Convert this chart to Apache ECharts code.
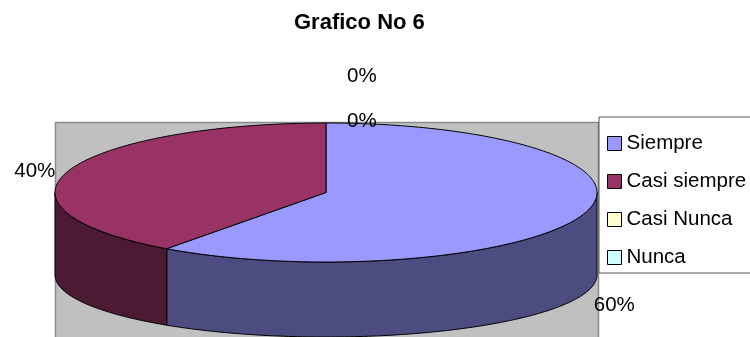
<!DOCTYPE html>
<html>
<head>
<meta charset="utf-8">
<title>Grafico No 6</title>
<script src="https://cdn.jsdelivr.net/npm/echarts@6/dist/echarts.min.js"></script>
<style>
  html, body { margin: 0; padding: 0; background: #fff; }
  #chart { width: 750px; height: 337px; }
</style>
</head>
<body>
<div id="chart"></div>
<script>
// Survey answers and their share of responses
const categories = ['Siempre', 'Casi siempre', 'Casi Nunca', 'Nunca'];
const values = [60, 40, 0, 0];
const topColors = ['#9999FF', '#993366', '#FFFFCC', '#CCFFFF'];
const sideColors = ['#4C4C80', '#4D1A33', '#80806A', '#6A8080'];

const FONT = '"Liberation Sans", Arial, sans-serif';

// Tilted-disc geometry (top face ellipse and bottom rim ellipse)
const geo = { cx: 326, cyTop: 192.5, a: 271, bTop: 69.5, cyBot: 275, bBot: 62 };

const total = values.reduce((s, v) => s + v, 0);

function topPt(deg) {
  const r = deg * Math.PI / 180;
  return [geo.cx + geo.a * Math.sin(r), geo.cyTop - geo.bTop * Math.cos(r)];
}
function botPt(deg) {
  const r = deg * Math.PI / 180;
  return [geo.cx + geo.a * Math.sin(r), geo.cyBot - geo.bBot * Math.cos(r)];
}
function arc(fn, from, to) {
  const pts = [];
  const n = Math.max(2, Math.ceil(Math.abs(to - from)));
  for (let k = 0; k <= n; k++) pts.push(fn(from + (to - from) * k / n));
  return pts;
}

function renderSlice(params, api) {
  const i = params.seriesIndex;
  let before = 0;
  for (let k = 0; k < i; k++) before += values[k];
  const start = before / total * 360;
  const end = (before + values[i]) / total * 360;
  const children = [];

  if (values[i] > 0) {
    // visible front wall of the slice (angles 90..270, clockwise from top)
    const s0 = Math.max(start, 90), s1 = Math.min(end, 270);
    if (s0 < s1) {
      const pts = arc(topPt, s0, s1).concat(arc(botPt, s1, s0));
      children.push({
        type: 'polygon', shape: { points: pts },
        style: { fill: sideColors[i], stroke: '#000', lineWidth: 1 }
      });
    }
    // top face
    const facePts = [[geo.cx, geo.cyTop]].concat(arc(topPt, start, end));
    children.push({
      type: 'polygon', shape: { points: facePts },
      style: { fill: topColors[i], stroke: '#000', lineWidth: 1 }
    });
  }

  // percentage label
  const pct = Math.round(values[i] / total * 100) + '%';
  let x, y, align;
  if (values[i] > 0) {
    const mid = (start + end) / 2;
    const r = mid * Math.PI / 180;
    const s = Math.sin(r), c = Math.cos(r);
    const p = c < 0 ? botPt(mid) : topPt(mid);
    align = s >= 0 ? 'left' : 'right';
    x = p[0] + (s >= 0 ? 10 : -13);
    y = p[1] + (c < 0 ? 11 : 0);
  } else {
    // empty slices sit at the top seam; stack their labels upward
    let zerosAfter = 0;
    for (let k = i + 1; k < values.length; k++) if (values[k] === 0) zerosAfter++;
    const p = topPt(start);
    align = 'left';
    x = p[0] + 21;
    y = p[1] - 2 - zerosAfter * 45;
  }
  children.push({
    type: 'text', z2: 10,
    style: {
      text: pct, x: x, y: y, align: align, verticalAlign: 'middle',
      font: '20.5px ' + FONT, fill: '#000'
    }
  });

  return { type: 'group', children: children };
}

const chart = echarts.init(document.getElementById('chart'), null, { renderer: 'canvas' });

chart.setOption({
  animation: false,
  backgroundColor: '#fff',
  title: {
    text: 'Grafico No 6',
    left: 294, top: 12, padding: 0,
    textStyle: { fontFamily: FONT, fontSize: 22, fontWeight: 'bold', color: '#000' }
  },
  graphic: [{
    type: 'rect', z: 0,
    shape: { x: 55.5, y: 122.5, width: 543, height: 230 },
    style: { fill: '#C0C0C0', stroke: '#8a8a8a', lineWidth: 1.5 }
  }],
  legend: {
    orient: 'vertical',
    left: 599, top: 117,
    icon: 'rect',
    itemWidth: 14, itemHeight: 14, itemGap: 17,
    padding: [16, 40, 5, 8],
    backgroundColor: '#fff',
    borderColor: '#555', borderWidth: 1,
    itemStyle: { borderColor: '#000', borderWidth: 1 },
    textStyle: { fontFamily: FONT, fontSize: 20.5, color: '#000', lineHeight: 20 },
    data: categories
  },
  series: categories.map((name, i) => ({
    type: 'custom',
    name: name,
    coordinateSystem: 'none',
    itemStyle: { color: topColors[i] },
    renderItem: renderSlice,
    data: [values[i]]
  }))
});
</script>
</body>
</html>
